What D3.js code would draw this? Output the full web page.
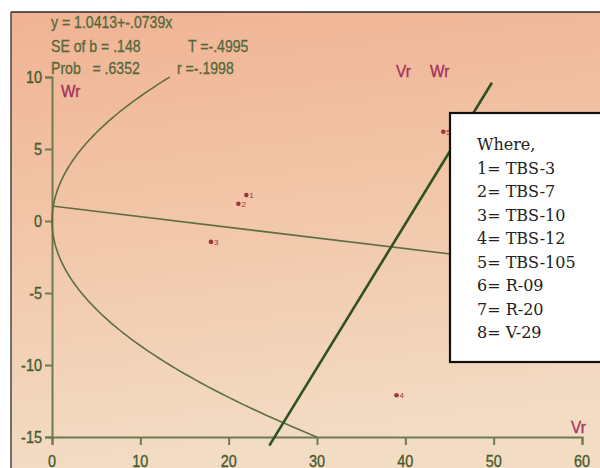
<!DOCTYPE html>
<html><head><meta charset="utf-8">
<script src="https://cdn.jsdelivr.net/npm/d3@7"></script>
<style>html,body{margin:0;padding:0;background:#fff;}svg{display:block;}</style>
</head><body>
<script>
// ---- data ----
const pointLabels = ["1", "2", "3", "4", "5"];
const vrValues = [22.0, 21.1, 18.0, 39.0, 44.3];
const wrValues = [1.8, 1.2, -1.45, -12.1, 6.2];
const xTicks = [0, 10, 20, 30, 40, 50, 60];
const yTicks = [-15, -10, -5, 0, 5, 10];
const statsLines = ["y = 1.0413+-.0739x", "SE of b = .148", "Prob   = .6352"];
const statsRight = ["", "T =-.4995", "r =-.1998"];
const regA = 1.0413, regB = -0.0739;          // regression Wr = a + b·Vr
const parabolaK = 7.5;                           // limiting parabola Wr² = k·Vr
const parabolaWr = [-15, 10];                    // Wr range of the parabola
const unitLineVr = [24.6, 49.8];                 // unit-slope line ends (Vr)
const unitLineIntercept = -40.2;
const legendLines = ["Where,", "1= TBS-3", "2= TBS-7", "3= TBS-10", "4= TBS-12", "5= TBS-105", "6= R-09", "7= R-20", "8= V-29"];

const W = 600, H = 468;
const svg = d3.select("body").append("svg").attr("width", W).attr("height", H);
const defs = svg.append("defs");
const grad = defs.append("linearGradient").attr("id", "bg").attr("x1", 0).attr("y1", 0).attr("x2", 0.15).attr("y2", 1);
grad.append("stop").attr("offset", "0%").attr("stop-color", "#f0b394");
grad.append("stop").attr("offset", "45%").attr("stop-color", "#f2c5a7");
grad.append("stop").attr("offset", "100%").attr("stop-color", "#f2dcc4");

svg.append("rect").attr("x", 11).attr("y", 12).attr("width", W - 11).attr("height", H - 12).attr("fill", "url(#bg)");
svg.append("line").attr("x1", 11).attr("x2", W).attr("y1", 12).attr("y2", 12).attr("stroke", "#2a2a2a").attr("stroke-width", 1.6);
svg.append("line").attr("x1", 11).attr("x2", 11).attr("y1", 12).attr("y2", H).attr("stroke", "#3a3a3a").attr("stroke-width", 1.4);

const x = d3.scaleLinear().domain([0, 60]).range([52, 582]);
const y = d3.scaleLinear().domain([-15, 10]).range([437, 77]);

const axisColor = "#6e7a52", tickText = "#475a2c";
function narrowText(g, px, py, txt, size, color, anchor, sx) {
  return g.append("text").attr("transform", `translate(${px},${py}) scale(${sx},1)`)
    .attr("font-family", "Liberation Sans, Arial, sans-serif").attr("font-size", size)
    .attr("fill", color).attr("stroke", color).attr("stroke-width", 0.35)
    .attr("text-anchor", anchor).text(txt);
}

// axes
const xAxis = svg.append("g").attr("transform", `translate(0,${y(-15)})`)
  .call(d3.axisBottom(x).tickValues(xTicks).tickSize(8).tickFormat(""));
const yAxis = svg.append("g").attr("transform", `translate(${x(0)},0)`)
  .call(d3.axisLeft(y).tickValues(yTicks).tickSize(7).tickFormat(""));
[xAxis, yAxis].forEach(a => {
  a.select(".domain").attr("stroke", axisColor).attr("stroke-width", 2);
  a.selectAll(".tick line").attr("stroke", axisColor).attr("stroke-width", 2);
});
xTicks.forEach(t => narrowText(svg, x(t), 467, String(t), 17, tickText, "middle", 0.85));
yTicks.forEach(t => narrowText(svg, 42, y(t) + 6, String(t), 17, tickText, "end", 0.85));

// parabola
const parPts = d3.range(parabolaWr[0], parabolaWr[1] + 0.01, 0.25).map(w => [w * w / parabolaK, w]);
svg.append("path").datum(parPts)
  .attr("d", d3.line().x(d => x(d[0])).y(d => y(d[1])).curve(d3.curveBasis))
  .attr("fill", "none").attr("stroke", "#5d6e45").attr("stroke-width", 1.6);

// regression line
svg.append("line").attr("x1", x(0)).attr("y1", y(regA)).attr("x2", x(60)).attr("y2", y(regA + regB * 60))
  .attr("stroke", "#5d6e45").attr("stroke-width", 1.6);

// unit slope line
svg.append("line")
  .attr("x1", x(unitLineVr[0])).attr("y1", y(unitLineVr[0] + unitLineIntercept))
  .attr("x2", x(unitLineVr[1])).attr("y2", y(unitLineVr[1] + unitLineIntercept))
  .attr("stroke", "#2f5222").attr("stroke-width", 2.6);

// points
const pts = svg.append("g");
vrValues.forEach((v, i) => {
  pts.append("circle").attr("cx", x(v)).attr("cy", y(wrValues[i])).attr("r", 2.3).attr("fill", "#9b3340");
  pts.append("text").attr("x", x(v) + 3).attr("y", y(wrValues[i]) + 3)
    .attr("font-family", "Liberation Sans, Arial, sans-serif").attr("font-size", 8).attr("fill", "#9b3340").text(pointLabels[i]);
});

// stats text
const statsColor = "#55683a";
const baselines = [28, 52, 74];
statsLines.forEach((s, i) => {
  svg.append("text").attr("transform", `translate(51,${baselines[i]}) scale(0.88,1)`)
    .attr("font-family", "Liberation Sans, Arial, sans-serif").attr("font-size", 16).attr("fill", statsColor)
    .attr("stroke", statsColor).attr("stroke-width", 0.3)
    .attr("xml:space", "preserve").style("white-space", "pre").text(s);
  if (statsRight[i]) {
    narrowText(svg, i === 1 ? 188 : 177, baselines[i], statsRight[i], 16, statsColor, "start", 0.88)
      .attr("stroke-width", 0.3);
  }
});

// axis titles
const titleColor = "#a3305c";
narrowText(svg, 61, 97, "Wr", 17, titleColor, "start", 0.9);
narrowText(svg, 396, 77, "Vr", 17, titleColor, "start", 0.9);
narrowText(svg, 430, 77, "Wr", 17, titleColor, "start", 0.9);
narrowText(svg, 571, 433, "Vr", 17, titleColor, "start", 0.9);

// legend box
svg.append("rect").attr("x", 450).attr("y", 113).attr("width", 172).attr("height", 249)
  .attr("fill", "#ffffff").attr("stroke", "#111").attr("stroke-width", 2.2);
legendLines.forEach((s, i) => {
  svg.append("text").attr("x", 477).attr("y", 150 + i * 23.5)
    .attr("font-family", "DejaVu Serif, serif").attr("font-size", 16).attr("fill", "#222")
    .text(s);
});
</script>
</body></html>
